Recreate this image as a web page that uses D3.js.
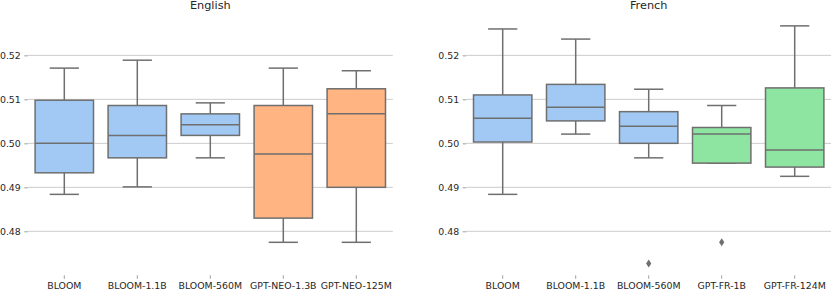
<!DOCTYPE html>
<html lang="en">
<head>
  <meta charset="UTF-8">
  <title>Box plots</title>
  <script src="https://cdn.jsdelivr.net/npm/d3@7"></script>
  <style>
    body { margin: 0; background: #fff; }
    svg { display: block; font-family: "DejaVu Sans", sans-serif; }
    .tick text { fill: #262626; font-size: 9.4px; font-family: "DejaVu Sans", sans-serif; }
    .chart-title { fill: #262626; font-size: 11.3px; text-anchor: middle; font-family: "DejaVu Sans", sans-serif; }
  </style>
</head>
<body>
  <script>
    // English panel
    var enModels = ["BLOOM", "BLOOM-1.1B", "BLOOM-560M", "GPT-NEO-1.3B", "GPT-NEO-125M"];
    var enLow    = [0.4884, 0.4901, 0.4967, 0.4775, 0.4775];
    var enQ1     = [0.4933, 0.4967, 0.5018, 0.4830, 0.4900];
    var enMedian = [0.5000, 0.5018, 0.5042, 0.4976, 0.5067];
    var enQ3     = [0.5098, 0.5086, 0.5067, 0.5086, 0.5124];
    var enHigh   = [0.5171, 0.5189, 0.5092, 0.5171, 0.5165];
    var enOutliers = [];

    // French panel
    var frModels = ["BLOOM", "BLOOM-1.1B", "BLOOM-560M", "GPT-FR-1B", "GPT-FR-124M"];
    var frLow    = [0.4884, 0.5021, 0.4967, 0.4955, 0.4925];
    var frQ1     = [0.5003, 0.5051, 0.5000, 0.4955, 0.4946];
    var frMedian = [0.5057, 0.5082, 0.5039, 0.5021, 0.4985];
    var frQ3     = [0.5110, 0.5134, 0.5072, 0.5036, 0.5126];
    var frHigh   = [0.5260, 0.5237, 0.5123, 0.5086, 0.5267];
    var frOutliers = [["BLOOM-560M", 0.4727], ["GPT-FR-1B", 0.4775]];

    var yTicks = [0.48, 0.49, 0.50, 0.51, 0.52];

    var blue = "#a1c9f4", orange = "#ffb482", green = "#8de5a1";
    var lineColor = "#6f6f6f";

    var svg = d3.select("body").append("svg")
      .attr("width", 831).attr("height", 291);

    // shared y scale
    var scaleY = d3.scaleLinear()
      .domain([0.4700, 0.5294])
      .range([275.3, 14]);

    function drawPanel(title, models, low, q1, med, q3, high, outliers, colors, x0, x1) {
      var g = svg.append("g");
      var scaleX = d3.scaleBand().domain(models).range([x0, x1]).padding(0);
      var bw = scaleX.bandwidth() * 0.8;
      var cx = d => scaleX(d) + scaleX.bandwidth() / 2;

      // grid
      g.selectAll(".grid").data(yTicks).enter().append("line")
        .attr("x1", x0).attr("x2", x1)
        .attr("y1", d => scaleY(d)).attr("y2", d => scaleY(d))
        .attr("stroke", "#cccccc").attr("stroke-width", 1);

      // y axis
      var axisY = d3.axisLeft(scaleY).tickValues(yTicks)
        .tickFormat(d3.format(".2f")).tickSizeInner(3.5).tickSizeOuter(0).tickPadding(3.5);
      var ay = g.append("g").attr("transform", "translate(" + x0 + ",0)").call(axisY);
      ay.select(".domain").remove();
      ay.selectAll(".tick line").attr("stroke", "#888").attr("stroke-width", 0.8);

      // x axis
      var axisX = d3.axisBottom(scaleX).tickSizeInner(3.5).tickSizeOuter(0).tickPadding(3.5);
      var ax = g.append("g").attr("transform", "translate(0,275.3)").call(axisX);
      ax.select(".domain").remove();
      ax.selectAll(".tick line").attr("stroke", "#888").attr("stroke-width", 0.8);

      var idx = d3.range(models.length);

      // whiskers
      g.selectAll(".whi").data(idx).enter().append("line")
        .attr("x1", i => cx(models[i])).attr("x2", i => cx(models[i]))
        .attr("y1", i => scaleY(q3[i])).attr("y2", i => scaleY(high[i]))
        .attr("stroke", lineColor).attr("stroke-width", 1.5);
      g.selectAll(".wlo").data(idx).enter().append("line")
        .attr("x1", i => cx(models[i])).attr("x2", i => cx(models[i]))
        .attr("y1", i => scaleY(q1[i])).attr("y2", i => scaleY(low[i]))
        .attr("stroke", lineColor).attr("stroke-width", 1.5);
      // caps
      [high, low].forEach(arr => {
        g.selectAll(null).data(idx).enter().append("line")
          .attr("x1", i => cx(models[i]) - bw / 4).attr("x2", i => cx(models[i]) + bw / 4)
          .attr("y1", i => scaleY(arr[i])).attr("y2", i => scaleY(arr[i]))
          .attr("stroke", lineColor).attr("stroke-width", 1.5);
      });

      // boxes
      g.selectAll(".box").data(idx).enter().append("rect")
        .attr("x", i => cx(models[i]) - bw / 2)
        .attr("width", bw)
        .attr("y", i => scaleY(q3[i]))
        .attr("height", i => scaleY(q1[i]) - scaleY(q3[i]))
        .attr("fill", i => colors[i])
        .attr("stroke", lineColor).attr("stroke-width", 1.5);

      // medians
      g.selectAll(".med").data(idx).enter().append("line")
        .attr("x1", i => cx(models[i]) - bw / 2).attr("x2", i => cx(models[i]) + bw / 2)
        .attr("y1", i => scaleY(med[i])).attr("y2", i => scaleY(med[i]))
        .attr("stroke", lineColor).attr("stroke-width", 1.5);

      // outliers (thin diamonds)
      g.selectAll(".out").data(outliers).enter().append("path")
        .attr("d", "M0,-4L2.6,0L0,4L-2.6,0Z")
        .attr("transform", d => "translate(" + cx(d[0]) + "," + scaleY(d[1]) + ")")
        .attr("fill", lineColor);

      g.append("text").attr("class", "chart-title")
        .attr("x", (x0 + x1) / 2).attr("y", 8.5).text(title);
    }

    drawPanel("English", enModels, enLow, enQ1, enMedian, enQ3, enHigh, enOutliers,
      [blue, blue, blue, orange, orange], 27.8, 392.8);
    drawPanel("French", frModels, frLow, frQ1, frMedian, frQ3, frHigh, frOutliers,
      [blue, blue, blue, green, green], 466.2, 831.2);
  </script>
</body>
</html>
